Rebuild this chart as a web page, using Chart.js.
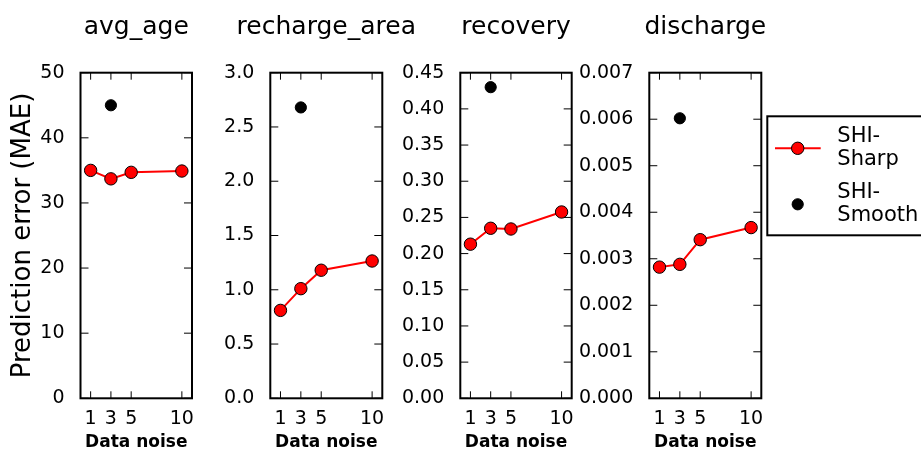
<!DOCTYPE html>
<html>
<head>
<meta charset="utf-8">
<script src="https://cdn.jsdelivr.net/npm/chart.js@4.4.1/dist/chart.umd.min.js"></script>
<style>
  html, body { margin: 0; padding: 0; background: #fff; }
  #figure { position: relative; width: 921px; height: 453px; overflow: hidden; }
  #figure canvas { position: absolute; top: 0; left: 0; }
</style>
</head>
<body>
<div id="figure">
  <canvas id="panel0"></canvas>
  <canvas id="panel1"></canvas>
  <canvas id="panel2"></canvas>
  <canvas id="panel3"></canvas>
</div>
<script>
// x values: data noise levels
const noiseLevels = [1, 3, 5, 10];
const smoothNoise = [3];
const xTicks = [1, 3, 5, 10];

const panelTitles = ['avg_age', 'recharge_area', 'recovery', 'discharge'];
const seriesNames = [['SHI-', 'Sharp'], ['SHI-', 'Smooth']];

// MAE per target
const sharpAvgAge = [35.0, 33.7, 34.7, 34.9];
const smoothAvgAge = [45.0];
const sharpRecharge = [0.81, 1.01, 1.18, 1.265];
const smoothRecharge = [2.68];
const sharpRecovery = [0.213, 0.235, 0.234, 0.2575];
const smoothRecovery = [0.430];
const sharpDischarge = [0.00282, 0.00288, 0.00341, 0.00367];
const smoothDischarge = [0.00602];

// y tick labels
const yTicksAvgAge = [0, 10, 20, 30, 40, 50];
const yTicksRecharge = [0.0, 0.5, 1.0, 1.5, 2.0, 2.5, 3.0];
const yTicksRecovery = [0.00, 0.05, 0.10, 0.15, 0.20, 0.25, 0.30, 0.35, 0.40, 0.45];
const yTicksDischarge = [0.000, 0.001, 0.002, 0.003, 0.004, 0.005, 0.006, 0.007];
const yDecimals = [0, 1, 2, 3];

const sharpSeries = [sharpAvgAge, sharpRecharge, sharpRecovery, sharpDischarge];
const smoothSeries = [smoothAvgAge, smoothRecharge, smoothRecovery, smoothDischarge];
const yTickSets = [yTicksAvgAge, yTicksRecharge, yTicksRecovery, yTicksDischarge];

// every panel gets a full-size transparent canvas; these set where its
// y axis starts and where its plot area sits
const layouts = [
  { axisLeft: 0,   plotLeft: 80.5,  plotRight: 192 },
  { axisLeft: 205, plotLeft: 270.3, plotRight: 382.3 },
  { axisLeft: 390, plotLeft: 460.3, plotRight: 571.7 },
  { axisLeft: 580, plotLeft: 649.3, plotRight: 761.3 }
];
const FIG_W = 921;
const FIG_H = 453;
const TOP_H = 72.7;
const BOTTOM_H = 54.7;
const FONT = '"DejaVu Sans", sans-serif';

Chart.defaults.font.family = FONT;
Chart.defaults.color = '#000';

// box around the plot area with inward tick marks on all four sides
const framePlugin = {
  id: 'frame',
  afterDatasetsDraw(chart) {
    const { ctx, chartArea: a, scales } = chart;
    ctx.save();
    ctx.strokeStyle = '#000';
    ctx.lineWidth = 1;
    ctx.beginPath();
    scales.x.ticks.forEach(t => {
      const px = scales.x.getPixelForValue(t.value);
      ctx.moveTo(px, a.bottom); ctx.lineTo(px, a.bottom - 7);
      ctx.moveTo(px, a.top); ctx.lineTo(px, a.top + 7);
    });
    scales.y.ticks.forEach(t => {
      const py = scales.y.getPixelForValue(t.value);
      ctx.moveTo(a.left, py); ctx.lineTo(a.left + 8, py);
      ctx.moveTo(a.right, py); ctx.lineTo(a.right - 8, py);
    });
    ctx.stroke();
    ctx.lineWidth = 2;
    ctx.strokeRect(a.left, a.top, a.right - a.left, a.bottom - a.top);
    ctx.restore();
  }
};

// panel title centred over the plot area
const panelTitle = {
  id: 'panelTitle',
  afterDraw(chart, args, opts) {
    const { ctx, chartArea: a } = chart;
    ctx.save();
    ctx.fillStyle = '#000';
    ctx.font = '25px ' + FONT;
    ctx.textAlign = 'center';
    ctx.textBaseline = 'alphabetic';
    ctx.fillText(opts.text, (a.left + a.right) / 2, 34);
    ctx.restore();
  }
};

// legend box to the right of the last panel
const sideLegend = {
  id: 'sideLegend',
  afterDraw(chart) {
    const { ctx, chartArea: a } = chart;
    const bx = a.right + 6, by = 116.3, bh = 119;
    ctx.save();
    ctx.fillStyle = '#fff';
    ctx.fillRect(bx, by, 300, bh);
    ctx.strokeStyle = '#000';
    ctx.lineWidth = 2;
    ctx.strokeRect(bx, by, 300, bh);

    const rows = [148.3, 204.3];
    chart.data.datasets.forEach((ds, i) => {
      const cy = rows[i];
      const cx = bx + 30.4;
      if (ds.showLine) {
        ctx.strokeStyle = ds.borderColor;
        ctx.lineWidth = ds.borderWidth;
        ctx.beginPath();
        ctx.moveTo(bx + 7.7, cy);
        ctx.lineTo(bx + 53.4, cy);
        ctx.stroke();
      }
      ctx.beginPath();
      ctx.arc(cx, cy, ds.pointRadius, 0, Math.PI * 2);
      ctx.fillStyle = ds.pointBackgroundColor;
      ctx.fill();
      ctx.lineWidth = ds.pointBorderWidth;
      ctx.strokeStyle = ds.pointBorderColor;
      ctx.stroke();

      ctx.fillStyle = '#000';
      ctx.font = '21px ' + FONT;
      ctx.textBaseline = 'alphabetic';
      ctx.textAlign = 'left';
      seriesNames[i].forEach((line, j) => {
        ctx.fillText(line, bx + 70, cy - 6.6 + j * 23.4);
      });
    });
    ctx.restore();
  }
};

panelTitles.forEach((title, i) => {
  const lay = layouts[i];
  const canvas = document.getElementById('panel' + i);
  canvas.width = FIG_W;
  canvas.height = FIG_H;

  const yTicks = yTickSets[i];
  const dec = yDecimals[i];

  new Chart(canvas, {
    type: 'scatter',
    data: {
      datasets: [
        {
          label: seriesNames[0].join(''),
          data: noiseLevels.map((n, k) => ({ x: n, y: sharpSeries[i][k] })),
          showLine: true,
          borderColor: '#ff0000',
          borderWidth: 2,
          pointRadius: 6.2,
          pointBackgroundColor: '#ff0000',
          pointBorderColor: '#000',
          pointBorderWidth: 1,
          clip: false
        },
        {
          label: seriesNames[1].join(''),
          data: smoothNoise.map((n, k) => ({ x: n, y: smoothSeries[i][k] })),
          showLine: false,
          pointRadius: 5.6,
          pointBackgroundColor: '#000',
          pointBorderColor: '#000',
          pointBorderWidth: 1,
          clip: false
        }
      ]
    },
    options: {
      responsive: false,
      animation: false,
      events: [],
      layout: {
        padding: { left: lay.axisLeft, right: FIG_W - lay.plotRight, top: 0, bottom: 0 }
      },
      plugins: {
        legend: { display: false },
        tooltip: { enabled: false },
        panelTitle: { text: title }
      },
      scales: {
        x: {
          type: 'linear',
          position: 'bottom',
          min: 0,
          max: 11,
          afterBuildTicks: s => { s.ticks = xTicks.map(v => ({ value: v })); },
          afterFit: s => { s.height = BOTTOM_H; },
          ticks: { autoSkip: false, maxRotation: 0, padding: 1, font: { size: 19 } },
          grid: { display: false },
          border: { display: false },
          title: { display: true, text: 'Data noise', font: { size: 17, weight: 'bold' }, padding: 0 }
        },
        x2: {
          type: 'linear',
          position: 'top',
          min: 0,
          max: 11,
          afterFit: s => { s.height = TOP_H; },
          ticks: { display: false },
          grid: { display: false },
          border: { display: false }
        },
        y: {
          type: 'linear',
          min: 0,
          max: yTicks[yTicks.length - 1],
          afterBuildTicks: s => { s.ticks = yTicks.map(v => ({ value: v })); },
          afterFit: s => { s.width = lay.plotLeft - lay.axisLeft; },
          ticks: {
            autoSkip: false,
            padding: 8,
            font: { size: 19 },
            callback: v => Number(v).toFixed(dec)
          },
          grid: { display: false },
          border: { display: false },
          title: {
            display: i === 0,
            text: 'Prediction error (MAE)',
            font: { size: 26 },
            padding: { top: 8, bottom: 0 }
          }
        }
      }
    },
    plugins: i === 3 ? [framePlugin, panelTitle, sideLegend] : [framePlugin, panelTitle]
  });
});
</script>
</body>
</html>
